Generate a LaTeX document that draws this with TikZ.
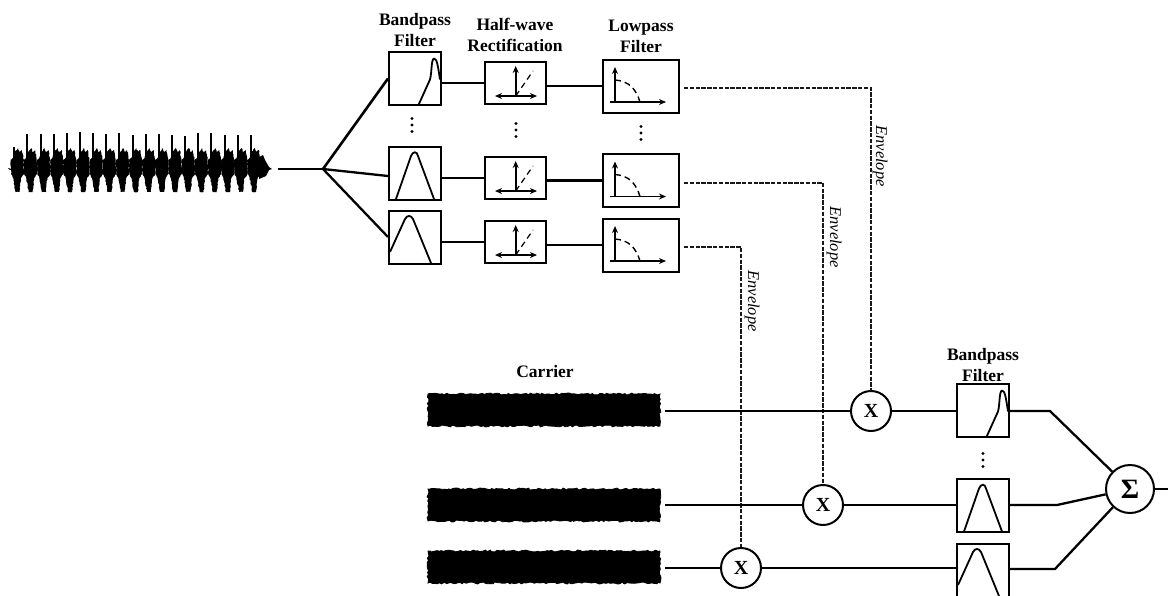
\documentclass[tikz,border=0pt]{standalone}
\usepackage{fontspec}
\setmainfont{Liberation Serif}
\usetikzlibrary{arrows.meta,decorations.pathmorphing}

\tikzset{
  box/.style={draw,line width=1pt,inner sep=0pt},
  bpbox/.style={box,minimum width=26pt,minimum height=26.5pt},
  hwbox/.style={box,minimum width=30.5pt,minimum height=21pt},
  lpbox/.style={box,minimum width=38pt,minimum height=26.5pt},
  mult/.style={circle,draw,line width=1pt,minimum size=20pt,inner sep=0pt,font=\fontsize{10}{10}\selectfont\bfseries},
  hdr/.style={align=center,inner sep=0pt,font=\fontsize{8.75}{10.5}\selectfont\bfseries},
  envtext/.style={rotate=-90,inner sep=0pt,font=\fontsize{8.2}{8.2}\selectfont\itshape},
  carrier/.style={draw,fill=black,inner sep=0pt,line width=.4pt,minimum width=116pt,minimum height=16pt,
    decorate,decoration={random steps,segment length=1.2pt,amplitude=.5pt}},
  conn/.style={line width=1.15pt},
  env/.style={line width=1pt,black!90,dash pattern=on 2.2pt off .7pt,shorten <=2pt},
  resp/.style={line width=.9pt,line join=round},
  axis/.style={line width=.8pt,-{Stealth[length=3.5pt,width=3pt]}},
  speech/.style={decorate,decoration={random steps,segment length=.8pt,amplitude=.25pt}},
  pics/bpskew/.style={code={\draw[resp] (3.7,26) -- (15,1) .. controls (17,-6) and (16,-19) .. (19,-20)
    .. controls (22,-20) and (23,-12) .. (25,1);}},
  pics/bpmid/.style={code={\draw[resp] (-19,26) -- (-4,-17) .. controls (-2,-22) and (2,-22) .. (3,-17) -- (19,26);}},
  pics/bplow/.style={code={\draw[resp] (-25,15) -- (-10,-18) .. controls (-8,-22) and (-4,-22) .. (-2,-18) -- (16,26);}},
  pics/rectify/.style={code={
    \draw[axis] (0.7,13) -- (0.7,-17);
    \draw[line width=.8pt,{Stealth[length=3.5pt,width=3pt]}-{Stealth[length=3.5pt,width=3pt]}] (-20,13) -- (22,13);
    \draw[line width=.6pt,densely dashed] (0.7,13) -- (18,-12);}},
  pics/lowpass/.style={code={
    \draw[axis] (-26,16) -- (-26,-19);
    \draw[axis] (-31,16) -- (25,16);
    \draw[line width=.7pt,densely dashed] (-26,-6) .. controls (-12,-5) and (-5,3) .. (-1,16);}},
  pics/threedots/.style={code={
    \foreach \d in {-6.5,0,6.5} \fill (0,\d) circle (1.6);}},
}

\begin{document}
\begin{tikzpicture}[x=.5pt,y=-.5pt]
  \useasboundingbox (0,0) rectangle (1168,595);

  % speech waveform
  \fill (8,168) -- (12,169) -- (14,172) -- (14,169) -- (10,170) -- cycle;
  \foreach \k/\h in {0/22,1/35,2/35,3/35,4/36,5/37,6/36,7/35,8/36,9/34,10/35,11/35,12/34,13/33,14/36,15/36,16/34,17/34,18/34}{
    \fill[speech,xshift=\k*6.575pt] (10.5,160) -- (13,158) -- (15,152) -- (18,148)
      -- (19.5,152) -- (22,150) -- (23.5,159) -- (24,174) -- (21,178) -- (19.5,192) -- (15.5,192) -- (13,178) -- (11,174) -- cycle;
    \draw[line width=1pt,xshift=\k*6.575pt] (14.2,160) -- (14.2,169-\h);
  }
  \fill (259,157) -- (263,155) -- (265,160) -- (269,167) -- (272,169) -- (269,170) -- (266,176) -- (259,179) -- cycle;
  \coordinate (wave) at (278,169);
  \coordinate (fork) at (323,169);

  % analysis bank
  \foreach \row/\ybp/\yhw/\ylp in {1/78.5/83/86,2/173/178/180.5,3/237/242/245}{
    \node[bpbox] (bp\row) at (415,\ybp) {};
    \node[hwbox] (hw\row) at (515,\yhw) {};
    \node[lpbox] (lp\row) at (641,\ylp) {};
    \pic at (hw\row) {rectify};
    \pic at (lp\row) {lowpass};
    \draw[conn] (bp\row.east |- hw\row) -- (hw\row.west);
    \draw[conn] (hw\row.east |- lp\row) -- (lp\row.west);
  }
  \pic at (bp1) {bpskew};
  \pic at (bp2) {bpmid};
  \pic at (bp3) {bplow};

  \draw[conn] (wave) -- (fork);
  \draw[conn,line width=1.3pt] (fork) -- (bp1.west);
  \draw[conn] (fork) -- ([yshift=-1.5pt]bp2.west);
  \draw[conn] (fork) -- (bp3.west);

  \node[hdr] (bphead) at (415,30) {Bandpass\\Filter};
  \node[hdr] (hwhead) at (515,35) {Half-wave\\Rectification};
  \node[hdr] (lphead) at (641,36) {Lowpass\\Filter};

  \pic at (412,125) {threedots};
  \pic at (516,130) {threedots};
  \pic at (641,133) {threedots};

  % carriers and multipliers
  \node[hdr] (carhead) at (545,372) {Carrier};
  \node[carrier] (car1) at (544,410) {};
  \node[carrier] (car2) at (544,505) {};
  \node[carrier] (car3) at (544,567) {};
  \node[mult] (m1) at (871,411) {X};
  \node[mult] (m2) at (823,505) {X};
  \node[mult] (m3) at (741,568) {X};

  % envelopes
  \draw[env] ([yshift=-1pt]lp1.east) -| (m1.north);
  \draw[env] ([yshift=-1pt]lp2.east) -| (m2.north);
  \draw[env] ([yshift=-1pt]lp3.east) -| (m3.north);
  \node[envtext] (env1) at (880,156) {Envelope};
  \node[envtext] (env2) at (834,237) {Envelope};
  \node[envtext] (env3) at (752,301) {Envelope};

  % synthesis bank
  \node[bpbox] (f1) at (983,410.5) {};
  \node[bpbox] (f2) at (983,505.5) {};
  \node[bpbox] (f3) at (983,570) {};
  \pic at (f1) {bpskew};
  \pic at (f2) {bpmid};
  \pic at (f3) {bplow};
  \node[hdr] (fhead) at (983,365) {Bandpass\\Filter};
  \pic at (983,460) {threedots};

  \node[circle,draw,line width=1pt,minimum size=24pt,inner sep=0pt,font=\fontsize{14}{14}\selectfont\bfseries] (sum) at (1130,489) {Σ};
  \coordinate (j1) at (1050,411);
  \coordinate (j2) at (1057,505);
  \coordinate (j3) at (1055,569);
  \coordinate (out) at (1168,489);

  \foreach \row in {1,2,3}{
    \draw[conn,shorten <=2.5pt] (car\row.east |- m\row) -- (m\row.west);
    \draw[conn] (m\row.east) -- (f\row.west |- m\row);
    \draw[conn,line join=round] (f\row.east |- j\row) -- (j\row) -- (sum);
  }
  \draw[conn] (sum) -- (out);
\end{tikzpicture}
\end{document}
